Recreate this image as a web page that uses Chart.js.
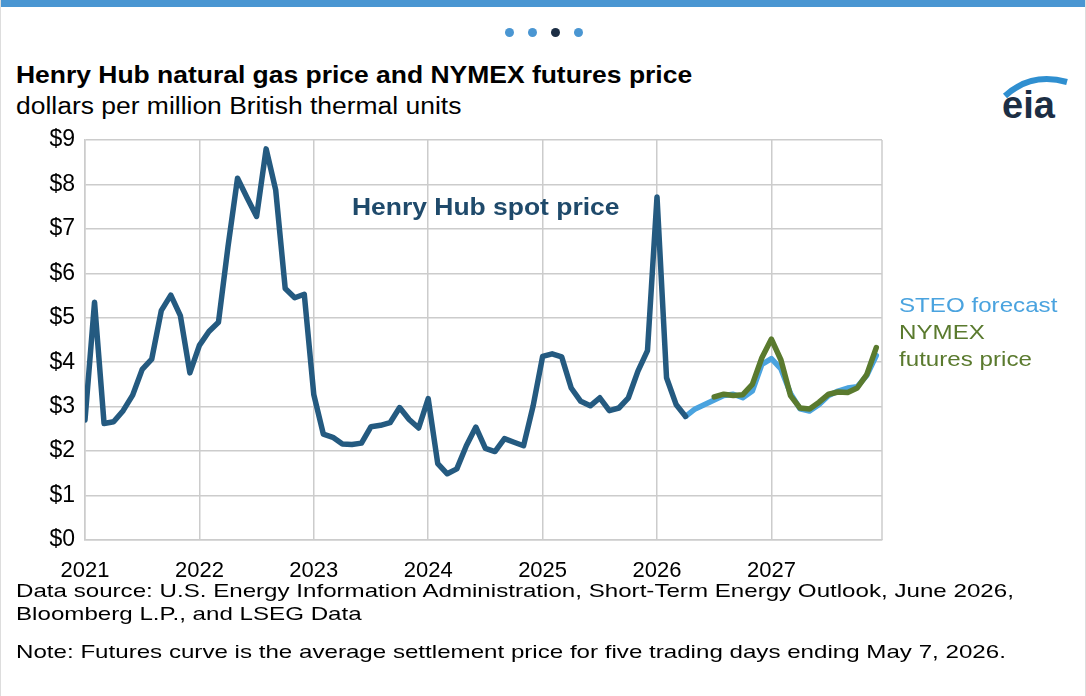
<!DOCTYPE html>
<html><head><meta charset="utf-8">
<script src="https://cdn.jsdelivr.net/npm/chart.js@4"></script>
<style>
body{margin:0;background:#fff;font-family:"Liberation Sans",Arial,sans-serif;}
#wrap{position:relative;width:1086px;height:696px;overflow:hidden;}
.t{position:absolute;white-space:nowrap;}
.s{transform:scaleX(1.15);transform-origin:left top;}
.n{transform:scaleX(1.27);transform-origin:left top;}
</style></head><body>
<div id="wrap">
<div style="position:absolute;left:0;top:0;width:1086px;height:7px;background:#4a96d2"></div>
<div style="position:absolute;left:0;top:0;width:1px;height:696px;background:#ddd"></div>
<div style="position:absolute;right:0;top:0;width:1px;height:696px;background:#ddd"></div>
<div class="t" style="left:505px;top:28px;font-size:0">
<span style="display:inline-block;width:9px;height:9px;border-radius:5px;background:#4a96d2;margin-right:14px"></span><span style="display:inline-block;width:9px;height:9px;border-radius:5px;background:#4a96d2;margin-right:14px"></span><span style="display:inline-block;width:9px;height:9px;border-radius:5px;background:#1c2e44;margin-right:14px"></span><span style="display:inline-block;width:9px;height:9px;border-radius:5px;background:#4a96d2"></span>
</div>
<div class="t s" style="left:16px;top:62px;font-size:23px;font-weight:bold;color:#000">Henry Hub natural gas price and NYMEX futures price</div>
<div class="t s" style="left:16px;top:93px;font-size:23px;color:#000">dollars per million British thermal units</div>
<svg class="t" style="left:995px;top:64px" width="80" height="60">
<path d="M10 32 Q36 8 72 18" stroke="#2f8fd0" stroke-width="6" fill="none"/>
<text x="7" y="54" font-family="Liberation Sans" font-weight="bold" font-size="38" fill="#1c2e44">eia</text>
</svg>
<canvas id="c" width="1086" height="696" style="position:absolute;left:0;top:0"></canvas>
<div class="t s" style="left:352px;top:194px;font-size:23px;font-weight:bold;color:#1f4a6b">Henry Hub spot price</div>
<div class="t s" style="left:899px;top:293px;font-size:21px;color:#4aa3df">STEO forecast</div>
<div class="t s" style="left:899px;top:320px;font-size:21px;color:#5a7a2e">NYMEX</div>
<div class="t s" style="left:899px;top:347px;font-size:21px;color:#5a7a2e">futures price</div>
<div class="t n" style="left:16px;top:579px;font-size:19px;color:#000;line-height:23px">Data source: U.S. Energy Information Administration, Short-Term Energy Outlook, June 2026,<br>Bloomberg L.P., and LSEG Data</div>
<div class="t n" style="left:16px;top:641px;font-size:19px;color:#000">Note: Futures curve is the average settlement price for five trading days ending May 7, 2026.</div>
</div>
<script>
const years = ['2021','2022','2023','2024','2025','2026','2027'];
const spot = [2.70,5.35,2.62,2.66,2.91,3.26,3.84,4.07,5.16,5.51,5.05,3.76,
  4.38,4.69,4.90,6.60,8.14,7.70,7.28,8.80,7.88,5.66,5.45,5.53,
  3.27,2.38,2.31,2.16,2.15,2.18,2.55,2.58,2.64,2.98,2.71,2.52,
  3.18,1.72,1.49,1.60,2.12,2.54,2.06,1.99,2.28,2.20,2.12,3.01,
  4.13,4.19,4.12,3.42,3.12,3.02,3.20,2.91,2.97,3.20,3.80,4.26,
  7.72,3.65,3.05,2.78];
const steoStart = 63;
const steo = [2.78,2.95,3.05,3.15,3.25,3.28,3.20,3.35,3.95,
  4.08,3.85,3.30,2.95,2.90,3.05,3.25,3.35,3.42,3.45,3.70,4.15];
const nymexStart = 66;
const nymex = [3.22,3.28,3.25,3.27,3.50,4.10,
  4.52,4.05,3.25,2.97,2.95,3.10,3.28,3.33,3.32,3.42,3.72,4.33];

const toPts = (arr, s) => arr.map((v, i) => ({x: s + i, y: v}));

new Chart(document.getElementById('c'), {
  type: 'line',
  data: {datasets: [
    {data: toPts(spot, 0), borderColor: '#245a80', borderWidth: 5.5},
    {data: toPts(nymex, nymexStart), borderColor: '#5a7a2e', borderWidth: 5.5},
    {data: toPts(steo, steoStart), borderColor: '#4aa3df', borderWidth: 5.5}
  ]},
  options: {
    responsive: false, animation: false,
    elements: {point: {radius: 0}, line: {tension: 0, borderJoinStyle: 'round', borderCapStyle: 'round'}},
    layout: {padding: {top: 140, right: 204, left: 0, bottom: 0}},
    plugins: {legend: {display: false}, tooltip: {enabled: false}},
    scales: {
      x: {type: 'linear', min: 0, max: 83.6,
        afterBuildTicks: s => { s.ticks = years.map((y, i) => ({value: i * 12})); },
        afterFit: s => { s.height = 156; },
        grid: {color: '#cccccc', lineWidth: 1.5, drawTicks: false},
        border: {color: '#cccccc', width: 1.5},
        ticks: {padding: 18, color: '#000', font: {family: 'Liberation Sans', size: 22},
          callback: (v) => years[Math.round(v / 12)]}},
      y: {min: 0, max: 9,
        afterFit: s => { s.width = 85; },
        grid: {color: '#cccccc', lineWidth: 1.5, drawTicks: false},
        border: {color: '#cccccc', width: 1.5},
        ticks: {stepSize: 1, padding: 10, color: '#000', font: {family: 'Liberation Sans', size: 23},
          callback: v => '$' + v}}
    }
  },
  plugins: [{id: 'rb', afterDraw(c) {
    const a = c.chartArea, x = c.ctx;
    x.save(); x.strokeStyle = '#cccccc'; x.lineWidth = 1.5;
    x.beginPath(); x.moveTo(a.right, a.top); x.lineTo(a.right, a.bottom); x.stroke(); x.restore();
  }}]
});
</script>
</body></html>
